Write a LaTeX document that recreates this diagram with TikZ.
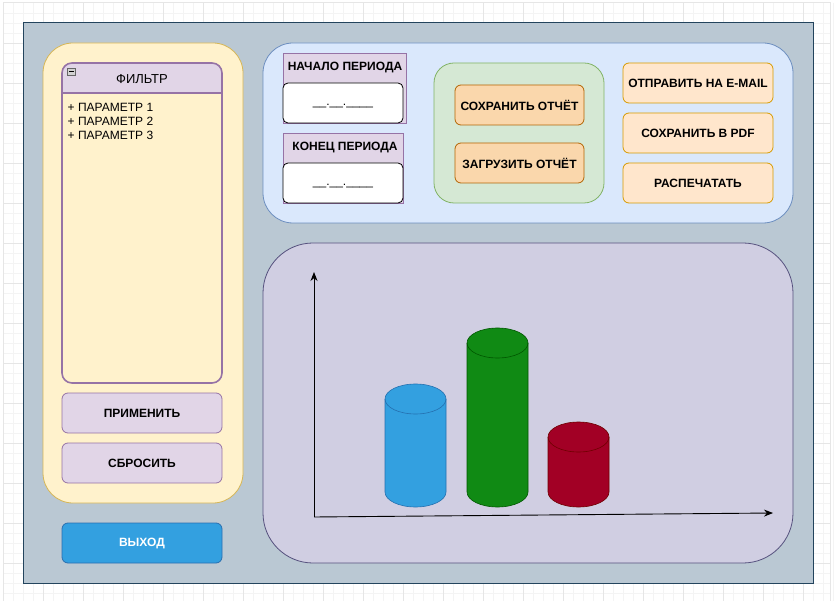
\documentclass[tikz,border=0pt]{standalone}
\usepackage{fontspec}
\setmainfont{Liberation Sans}
\usetikzlibrary{arrows.meta,shapes.geometric}
\definecolor{gridminor}{HTML}{F4F4F4}
\definecolor{gridmajor}{HTML}{E6E6E6}
\definecolor{frameF}{HTML}{BAC8D3}
\definecolor{frameS}{HTML}{23445D}
\definecolor{yelF}{HTML}{FFF2CC}
\definecolor{yelS}{HTML}{D6B656}
\definecolor{purF}{HTML}{E1D5E7}
\definecolor{purS}{HTML}{9673A6}
\definecolor{bluF}{HTML}{DAE8FC}
\definecolor{bluS}{HTML}{6C8EBF}
\definecolor{grnF}{HTML}{D5E8D4}
\definecolor{grnS}{HTML}{82B366}
\definecolor{orF}{HTML}{FAD7AC}
\definecolor{orS}{HTML}{B46504}
\definecolor{lorF}{HTML}{FFE6CC}
\definecolor{lorS}{HTML}{D79B00}
\definecolor{chF}{HTML}{D0CEE2}
\definecolor{chS}{HTML}{56517E}
\definecolor{exF}{HTML}{33A0E0}
\definecolor{exS}{HTML}{2A6FB0}
\definecolor{c1F}{HTML}{33A0E0}
\definecolor{c1S}{HTML}{2470B0}
\definecolor{c2F}{HTML}{108A14}
\definecolor{c2S}{HTML}{005700}
\definecolor{c3F}{HTML}{A20025}
\definecolor{c3S}{HTML}{6F0000}
\tikzset{
  btntext/.style={font=\bfseries\fontsize{12}{14}\selectfont, text=black},
  plaintext/.style={font=\fontsize{12}{14}\selectfont, text=black},
  btn/.style={rounded corners=6pt, line width=0.8pt},
}
\begin{document}
\begin{tikzpicture}[x=1pt,y=-1pt]
\useasboundingbox (0,0) rectangle (835,601);
\fill[white] (0,0) rectangle (835,601);
% grid
\foreach \i in {13,23,...,833} \draw[gridminor,line width=0.6pt] (\i,3) -- (\i,601);
\foreach \j in {13,23,...,601} \draw[gridminor,line width=0.6pt] (3,\j) -- (830,\j);
\foreach \i in {43,83,...,833} \draw[gridmajor,line width=0.8pt] (\i,3) -- (\i,601);
\foreach \j in {43,83,...,601} \draw[gridmajor,line width=0.8pt] (3,\j) -- (830,\j);
\draw[gridmajor,line width=1pt] (3,601) -- (3,3) -- (830,3) -- (830,601);
% frame
\draw[fill=frameF,draw=frameS,line width=1pt] (23,23) rectangle (813,583);
% yellow container
\draw[fill=yelF,draw=yelS,rounded corners=30pt,line width=0.8pt] (43,43) rectangle (243,503);
% filter swimlane
\fill[purF,rounded corners=10pt] (62,63) -- (222,63) -- (222,93) -- (62,93) -- cycle;
\fill[purF] (62,80) rectangle (222,93);
\draw[purS,line width=1.6pt,rounded corners=10pt] (62,63) rectangle (222,383);
\draw[purS,line width=1.6pt] (62,93) -- (222,93);
\node[plaintext,font=\fontsize{13}{15}\selectfont] (filt) at (142,79) {ФИЛЬТР};
\draw[fill=gray!35,draw=gray!80!black,line width=0.5pt] (67.5,68) rectangle (75,75.5);
\draw[black,line width=0.7pt] (69,71.75) -- (73.5,71.75);
\node[plaintext,anchor=north west,align=left,inner sep=0pt,font=\fontsize{12}{14}\selectfont] (params) at (67.5,103) {+ ПАРАМЕТР 1\\+ ПАРАМЕТР 2\\+ ПАРАМЕТР 3};
% left buttons
\draw[btn,fill=purF,draw=purS] (62,393) rectangle (222,433);
\node[btntext] (apply) at (142,413) {ПРИМЕНИТЬ};
\draw[btn,fill=purF,draw=purS] (62,443) rectangle (222,483);
\node[btntext] (reset) at (142,463) {СБРОСИТЬ};
\draw[btn,fill=exF,draw=exS] (62,523) rectangle (222,563);
\node[btntext,text=white] (exit) at (142,544) {ВЫХОД};
% blue container
\draw[fill=bluF,draw=bluS,rounded corners=30pt,line width=0.8pt] (263,43) rectangle (793,223);
% period boxes
\draw[fill=purF,draw=purS,line width=0.8pt] (283,53) rectangle (406,123);
\node[btntext] (startlbl) at (345,68) {НАЧАЛО ПЕРИОДА};
\draw[fill=white,draw=black,rounded corners=5pt,line width=0.8pt] (283,83) rectangle (403,123);
\node[plaintext] (startval) at (343,106) {\_\_.\_\_.\_\_\_\_};
\draw[fill=purF,draw=purS,line width=0.8pt] (283,133) rectangle (403,203);
\node[btntext] (endlbl) at (345,148) {КОНЕЦ ПЕРИОДА};
\draw[fill=white,draw=black,rounded corners=5pt,line width=0.8pt] (283,163) rectangle (403,203);
\node[plaintext] (endval) at (343,186) {\_\_.\_\_.\_\_\_\_};
% green container
\draw[fill=grnF,draw=grnS,rounded corners=20pt,line width=0.8pt] (434,63) rectangle (604,203);
\draw[btn,fill=orF,draw=orS] (455,85) rectangle (584,125);
\node[btntext] (save) at (519.5,105) {СОХРАНИТЬ ОТЧЁТ};
\draw[btn,fill=orF,draw=orS] (455,143) rectangle (584,183);
\node[btntext] (load) at (519.5,163) {ЗАГРУЗИТЬ ОТЧЁТ};
% right buttons
\draw[btn,fill=lorF,draw=lorS] (623,63) rectangle (773,103);
\node[btntext] (mail) at (698,83) {ОТПРАВИТЬ НА E-MAIL};
\draw[btn,fill=lorF,draw=lorS] (623,113) rectangle (773,153);
\node[btntext] (pdf) at (698,133) {СОХРАНИТЬ В PDF};
\draw[btn,fill=lorF,draw=lorS] (623,163) rectangle (773,203);
\node[btntext] (print) at (698,183) {РАСПЕЧАТАТЬ};
% chart container
\draw[fill=chF,draw=chS,rounded corners=50pt,line width=0.8pt] (263,243) rectangle (793,563);
% cylinders
\foreach \xl/\yt/\f/\s in {385/399/c1F/c1S, 467/343/c2F/c2S, 548/437/c3F/c3S}{
  \draw[fill=\f,draw=\s,line width=0.6pt] (\xl,\yt) -- (\xl,492) arc[start angle=180,end angle=0,x radius=30.5,y radius=15] -- (\xl+61,\yt) arc[start angle=0,end angle=-180,x radius=30.5,y radius=15] -- cycle;
  \draw[draw=\s,line width=0.6pt] (\xl,\yt) arc[start angle=180,end angle=0,x radius=30.5,y radius=15];
}
% axes
\coordinate (origin) at (314,517);
\coordinate (ytop) at (314,272);
\coordinate (xend) at (773,513);
\draw[line width=0.9pt,-{Stealth[length=9pt,width=7pt]}] (origin) -- (ytop);
\draw[line width=0.9pt,-{Stealth[length=9pt,width=7pt]}] (origin) -- (xend);
\end{tikzpicture}
\end{document}
